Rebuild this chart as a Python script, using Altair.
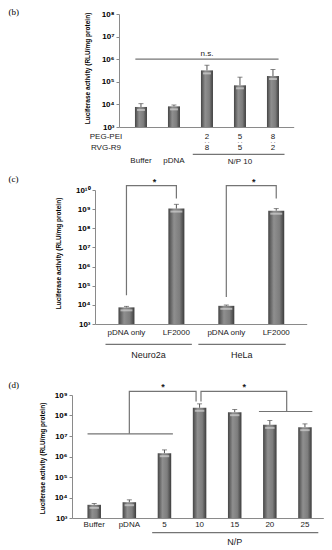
import json
import altair as alt
import pandas as pd

# ---------------- data ----------------
# (b) PEG-PEI / RVG-R9 mixtures
b_mean = [7.7e3, 8.2e3, 3.2e5, 7.0e4, 1.8e5]
b_upper = [1.08e4, 9.4e3, 5.4e5, 1.6e5, 3.5e5]
b_pegpei = ["", "", "2", "5", "8"]
b_rvgr9 = ["", "", "8", "5", "2"]
b_names = ["Buffer", "pDNA", "", "", ""]
b_row_titles = ["PEG-PEI", "RVG-R9"]
b_row_title_x = -1.06
b_ns_x = [-0.17, 4.17]
b_ns_y = 1e6
b_ns_text_x = 2.0
b_np_x = [1.57, 4.35]
b_np_label = "N/P 10"
b_np_label_x = 3.0

# (c) Neuro2a / HeLa
c_names = ["pDNA only", "LF2000", "pDNA only", "LF2000"]
c_mean = [7.4e3, 1.07e9, 8.9e3, 8.3e8]
c_upper = [8.3e3, 1.78e9, 9.8e3, 1.07e9]
c_groups = ["Neuro2a", "HeLa"]
c_group_x0 = [-0.42, 1.44]
c_group_x1 = [1.31, 3.19]
c_group_label_x = [0.44, 2.31]
c_br_x = [[0, 0, 1, 1], [2, 2, 3, 3]]
c_br_y = [[3.2e4, 1.7e10, 1.7e10, 3.6e9], [2.6e4, 1.7e10, 1.7e10, 3.6e9]]
c_star_x = [0.56, 2.55]
c_star_y = [1.7e10, 1.7e10]

# (d) N/P series
d_names = ["Buffer", "pDNA", "5", "10", "15", "20", "25"]
d_mean = [4.4e3, 5.9e3, 1.45e6, 2.38e8, 1.45e8, 3.5e7, 2.7e7]
d_upper = [5.1e3, 7.7e3, 2.1e6, 3.7e8, 1.96e8, 5.7e7, 3.9e7]
d_br_x = [[-0.19, 2.24], [1.0, 1.0, 2.9, 2.9], [3.04, 3.04, 5.48, 5.48], [4.69, 6.21]]
d_br_y = [[1.27e7, 1.27e7], [1.27e7, 1.5e9, 1.5e9, 4.8e8],
          [4.8e8, 1.5e9, 1.5e9, 1.57e8], [1.57e8, 1.57e8]]
d_star_x = [1.96, 4.27]
d_star_y = [1.5e9, 1.5e9]
d_np_x = [1.65, 6.38]
d_np_label = "N/P"
d_np_label_x = 4.0

# ---------------- style ----------------
FONT = "Liberation Sans"
SERIF = "Liberation Serif"
AX = "#8a8a8a"
LINE = "#747474"
ERR = "#555555"
TXT = "#1a1a1a"
YTITLE = "Luciferase activity (RLU/mg protein)"
SUP = ["⁰", "¹", "²", "³", "⁴", "⁵", "⁶", "⁷", "⁸", "⁹", "¹⁰"]
SUP_EXPR = "'10' + " + json.dumps(SUP, ensure_ascii=False) + "[round(log(datum.value) / LN10)]"

GRAD = alt.Gradient(
    gradient="linear", x1=0, x2=1, y1=0, y2=0,
    stops=[
        alt.GradientStop(color="#454545", offset=0),
        alt.GradientStop(color="#8f8f8f", offset=0.35),
        alt.GradientStop(color="#7d7d7d", offset=0.7),
        alt.GradientStop(color="#3c3c3c", offset=1),
    ],
)

W = 252
SPACING = 20
B_H, C_H, D_H = 113, 177, 174
LABEL_X = -63.5

X_AXIS = alt.Axis(labels=False, ticks=False, title=None, grid=False, domainColor=AX)


def y_axis(offset, values, tx, ty):
    return alt.Axis(
        values=values, labelExpr=SUP_EXPR, offset=offset, title=YTITLE,
        titleFont=FONT, titleFontSize=6.5, titleFontWeight="bold", titleColor="black",
        titleAngle=270, titleX=tx, titleY=ty, titleAlign="center", titleBaseline="middle",
        labelFont=FONT, labelFontSize=8, labelFontWeight="bold", labelColor="black",
        labelPadding=2, tickSize=3, tickColor=AX, domainColor=AX, grid=False,
        labelOverlap=False,
    )


class Panel:
    def __init__(self, xs, ys, yaxis):
        self.xs, self.ys, self.yaxis = xs, ys, yaxis

    def x(self, field="i"):
        return alt.X(f"{field}:Q", scale=self.xs, axis=X_AXIS)

    def y(self, field="v"):
        return alt.Y(f"{field}:Q", scale=self.ys, axis=self.yaxis)

    def bars(self, vals, uppers, bw):
        df = pd.DataFrame({"i": list(range(len(vals))), "v": vals, "u": uppers})
        bars = alt.Chart(df).mark_bar(width=bw, color=GRAD).encode(
            x=self.x(), y=self.y(), y2=alt.datum(1000))
        err = alt.Chart(df).mark_rule(color=ERR, strokeWidth=1).encode(
            x=self.x(), y=self.y(), y2="u:Q")
        cap = alt.Chart(df).mark_tick(orient="horizontal", size=5, thickness=1,
                                      color=ERR).encode(x=self.x(), y=self.y("u"))
        hi = alt.Chart(df).mark_tick(orient="horizontal", size=bw - 4, thickness=2,
                                     color="#d2d2d2", yOffset=3).encode(
            x=self.x(), y=self.y())
        return [bars, err, cap, hi]

    def brackets(self, xs_list, ys_list):
        rows = []
        for s, (xx, yy) in enumerate(zip(xs_list, ys_list)):
            for k, (a, b) in enumerate(zip(xx, yy)):
                rows.append({"seg": s, "k": k, "i": a, "v": b})
        return alt.Chart(pd.DataFrame(rows)).mark_line(color=LINE, strokeWidth=1.2).encode(
            x=self.x(), y=self.y(), detail="seg:N", order="k:Q")

    def hline(self, x0, x1, yv):
        df = pd.DataFrame({"i": [x0], "i2": [x1], "v": [yv]})
        return alt.Chart(df).mark_rule(color=LINE, strokeWidth=1.2).encode(
            x=self.x(), x2="i2:Q", y=self.y())

    def text_at(self, texts, xpos, yvals, size=8, **kw):
        df = pd.DataFrame({"t": texts, "i": xpos, "v": yvals})
        return alt.Chart(df).mark_text(font=FONT, fontSize=size, color=TXT, **kw).encode(
            x=self.x(), y=self.y(), text="t:N")

    def text_row(self, texts, xpos, ypx, size=8, **kw):
        df = pd.DataFrame({"t": texts, "i": xpos})
        df = df[df["t"] != ""]
        return alt.Chart(df).mark_text(fontSize=size, font=FONT, color=TXT, **kw).encode(
            x=self.x(), y=alt.value(ypx), text="t:N")

    def underline(self, x0, x1, ypx):
        df = pd.DataFrame({"i": x0, "i2": x1})
        return alt.Chart(df).mark_rule(color=LINE, strokeWidth=1.2).encode(
            x=self.x(), x2="i2:Q", y=alt.value(ypx))


def panel_label(text, ypx, baseline):
    return alt.Chart(pd.DataFrame({"t": [text]})).mark_text(
        font=SERIF, fontSize=9, color="black", align="left", baseline=baseline).encode(
        x=alt.value(LABEL_X), y=alt.value(ypx), text="t:N")


# ---------------- panel (b) ----------------
pb = Panel(alt.Scale(domain=[-0.514, 4.477], range=[47, 221.7]),
           alt.Scale(type="log", domain=[1e3, 1e8], range=[B_H, 0]),
           y_axis(-47, [10.0 ** k for k in range(3, 9)], -32, 54))
n5 = list(range(5))
b_layers = pb.bars(b_mean, b_upper, 12) + [
    pb.hline(b_ns_x[0], b_ns_x[1], b_ns_y),
    pb.text_at(["n.s."], [b_ns_text_x], [b_ns_y], baseline="alphabetic", dy=-3),
    pb.text_row(b_pegpei, n5, 122.5),
    pb.text_row([":" if t else "" for t in b_pegpei], n5, 128.5, size=7, angle=90),
    pb.text_row(b_rvgr9, n5, 133.5),
    pb.text_row([b_row_titles[0]], [b_row_title_x], 122.5),
    pb.text_row([b_row_titles[1]], [b_row_title_x], 134),
    pb.text_row(b_names, n5, 147),
    pb.underline([b_np_x[0]], [b_np_x[1]], 140.3),
    pb.text_row([b_np_label], [b_np_label_x], 147.5),
    panel_label("(b)", -6, "top"),
]
panel_b = alt.layer(*b_layers).properties(width=W, height=B_H)

# ---------------- panel (c) ----------------
pc = Panel(alt.Scale(domain=[-0.53, 3.51], range=[23, 234.7]),
           alt.Scale(type="log", domain=[1e3, 1e10], range=[C_H, 43]),
           y_axis(-23, [10.0 ** k for k in range(3, 11)], -37, 106))
c_layers = pc.bars(c_mean, c_upper, 16) + [
    pc.brackets(c_br_x, c_br_y),
    pc.text_at(["*"] * len(c_star_x), c_star_x, c_star_y, size=9, fontWeight="bold",
               baseline="alphabetic", dy=-1),
    pc.text_row(c_names, list(range(4)), 186.3),
    pc.underline(c_group_x0, c_group_x1, 197.3),
    pc.text_row(c_groups, c_group_label_x, 208, size=9),
    panel_label("(c)", 31.7, "middle"),
]
panel_c = alt.layer(*c_layers).properties(width=W, height=C_H)

# ---------------- panel (d) ----------------
pd_ = Panel(alt.Scale(domain=[-0.49, 6.38], range=[0, 251.3]),
            alt.Scale(type="log", domain=[1e3, 1e9], range=[D_H, 51]),
            y_axis(0, [10.0 ** k for k in range(3, 10)], -30, 114))
d_layers = pd_.bars(d_mean, d_upper, 13.5) + [
    pd_.brackets(d_br_x, d_br_y),
    pd_.text_at(["*"] * len(d_star_x), d_star_x, d_star_y, size=9, fontWeight="bold",
                baseline="alphabetic", dy=-1),
    pd_.text_row(d_names, list(range(7)), 181),
    pd_.underline([d_np_x[0]], [d_np_x[1]], 188.7),
    pd_.text_row([d_np_label], [d_np_label_x], 197.7, size=9),
    panel_label("(d)", 41, "middle"),
]
panel_d = alt.layer(*d_layers).properties(width=W, height=D_H)

chart = alt.vconcat(panel_b, panel_c, panel_d, spacing=SPACING, bounds="flush").properties(
    padding={"left": 0, "top": 0, "right": 0, "bottom": 0}
).configure_view(strokeWidth=0).configure_axis(grid=False)

chart.save("out.html", embed_options={"renderer": "svg", "actions": False})
